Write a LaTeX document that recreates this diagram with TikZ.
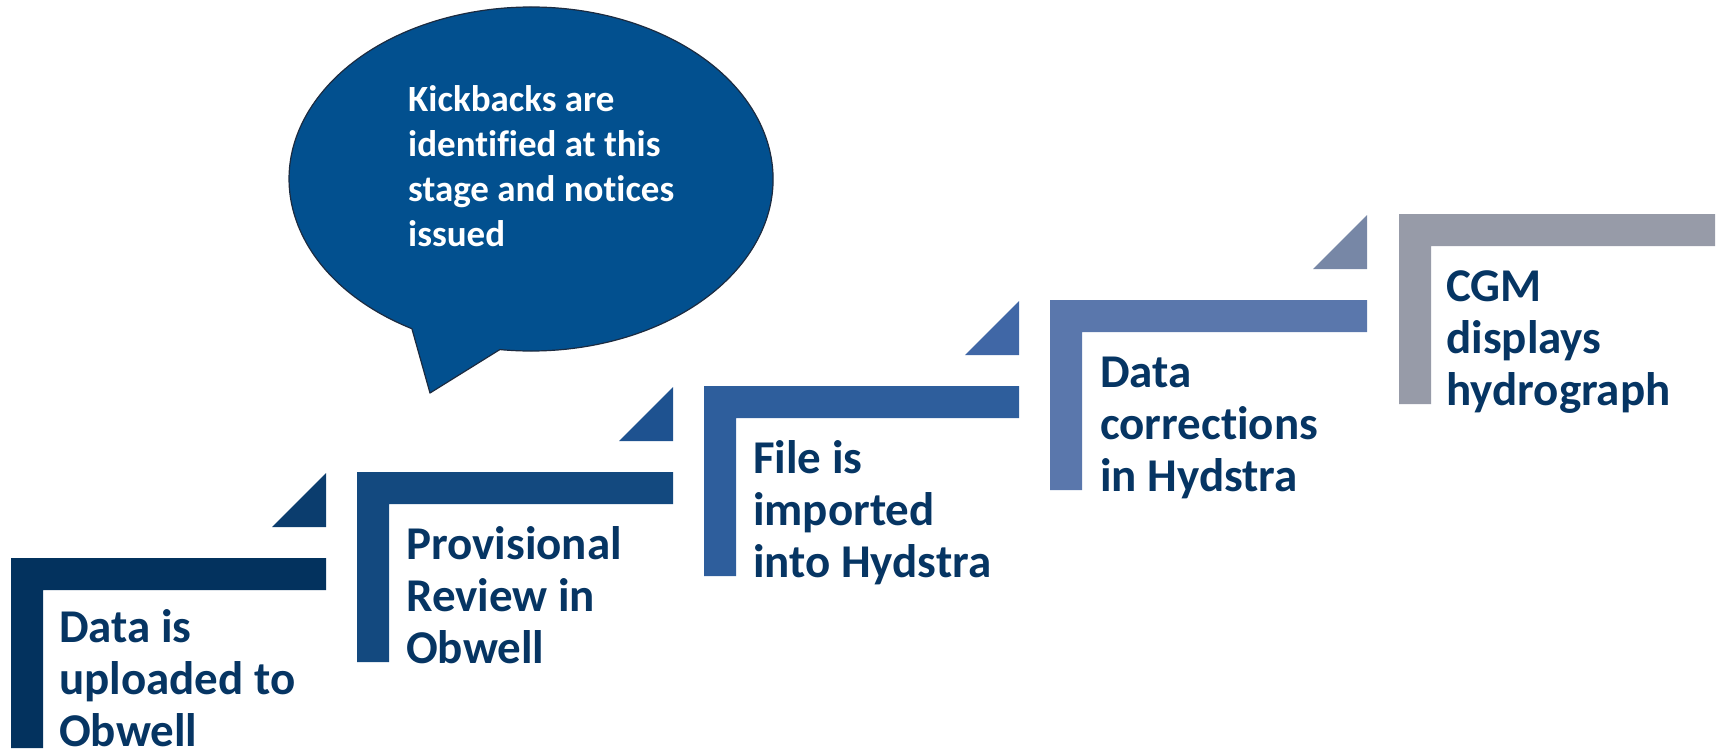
\documentclass[tikz,border=0pt]{standalone}
\usepackage{fontspec}
\setmainfont{Carlito}[Ligatures=NoCommon]
\begin{document}
\definecolor{cA}{HTML}{03325E}
\definecolor{tA}{HTML}{0B3D6E}
\definecolor{cB}{HTML}{13497F}
\definecolor{tB}{HTML}{1E5290}
\definecolor{cC}{HTML}{2E5E9C}
\definecolor{tC}{HTML}{4067A6}
\definecolor{cD}{HTML}{5A77AC}
\definecolor{tD}{HTML}{7787A6}
\definecolor{cE}{HTML}{979BA8}
\definecolor{steptext}{HTML}{063563}
\definecolor{bubblefill}{HTML}{02508F}
\definecolor{bubbleedge}{HTML}{1C2B40}
\begin{tikzpicture}[x=1pt,y=-1pt,
  % labels are placed by the baseline of their last line
  steplabel/.style={anchor=base west,inner sep=0pt,align=left,text=steptext,
    font=\fontsize{47}{52}\selectfont\bfseries},
  bubblelabel/.style={anchor=base west,inner sep=0pt,align=left,text=white,
    font=\fontsize{37}{44.7}\selectfont\bfseries}]
\useasboundingbox (0,0) rectangle (1717,753);

% L-shaped step brackets: top-left corner, width, bar thickness 32, height 190
\fill[cA] (11,558) -- ++(315,0) -- ++(0,32) -- ++(-283,0) -- ++(0,158) -- ++(-32,0) -- cycle;
\fill[cB] (357,472) -- ++(316,0) -- ++(0,32) -- ++(-284,0) -- ++(0,158) -- ++(-32,0) -- cycle;
\fill[cC] (704,386) -- ++(315,0) -- ++(0,32) -- ++(-283,0) -- ++(0,158) -- ++(-32,0) -- cycle;
\fill[cD] (1050,300) -- ++(317,0) -- ++(0,32) -- ++(-285,0) -- ++(0,158) -- ++(-32,0) -- cycle;
\fill[cE] (1399,214) -- ++(316,0) -- ++(0,32) -- ++(-284,0) -- ++(0,158) -- ++(-32,0) -- cycle;

% small step triangles above each bracket end
\fill[tA] (326,473) -- (326,527) -- (272,527) -- cycle;
\fill[tB] (673,387) -- (673,441) -- (619,441) -- cycle;
\fill[tC] (1019,301) -- (1019,355) -- (965,355) -- cycle;
\fill[tD] (1367,215) -- (1367,269) -- (1313,269) -- cycle;

% step labels
\node[steplabel] (s1) at (59,746) {Data is\\uploaded to\\Obwell};
\node[steplabel] (s2) at (406,663) {Provisional\\Review in\\Obwell};
\node[steplabel] (s3) at (753,577) {File is\\imported\\into Hydstra};
\node[steplabel] (s4) at (1100,491) {Data\\corrections\\in Hydstra};
\node[steplabel] (s5) at (1446,405) {CGM\\displays\\hydrograph};

% speech bubble with tail
\filldraw[fill=bubblefill,draw=bubbleedge,line width=1.2pt,line join=round]
  (499.8,349.6) -- (430,393) -- (411.9,328.7)
  arc[start angle=119.5,end angle=457.4,x radius=242,y radius=172] -- cycle;
\node[bubblelabel] (note) at (408,246) {Kickbacks are\\identified at this\\stage and notices\\issued};
\end{tikzpicture}
\end{document}
